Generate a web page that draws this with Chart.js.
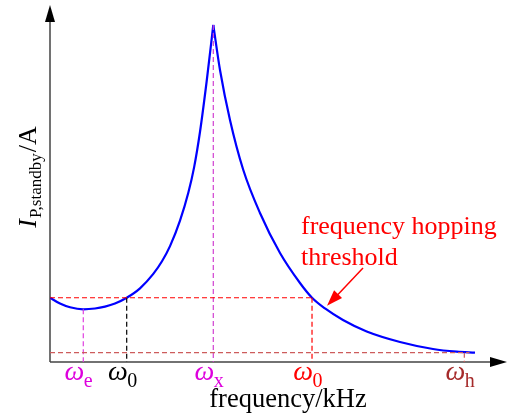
<!DOCTYPE html>
<html>
<head>
<meta charset="utf-8">
<script src="https://cdn.jsdelivr.net/npm/chart.js@4"></script>
<style>
  body { margin: 0; background: #fff; }
  #wrap { width: 518px; height: 420px; }
</style>
</head>
<body>
<div id="wrap"><canvas id="chart" width="518" height="420"></canvas></div>
<script>
// curve (arbitrary units, 0..100 on both axes)
const curveLeftX = [0, 2.19, 4.39, 7.30, 9.87, 12.06, 14.25, 16.82, 19.74, 22.65, 24.56, 26.32, 28.51, 30.33, 31.61, 32.89, 34.35, 35.81];
const curveLeftY = [18.0, 16.36, 15.32, 14.76, 14.99, 15.52, 16.39, 18.0, 20.64, 24.68, 28.21, 32.46, 39.61, 47.39, 54.59, 64.43, 78.57, 94.40];
const curveRightX = [35.81, 37.28, 39.47, 42.39, 46.05, 50.44, 54.82, 57.46, 60.31, 64.25, 69.45, 76.75, 83.99, 89.19, 93.2];
const curveRightY = [94.40, 81.79, 67.79, 53.78, 41.74, 30.53, 22.13, 18.0, 14.99, 11.76, 8.54, 5.60, 3.64, 2.89, 2.61];

// marked frequencies
const tickX = [7.30, 16.82, 35.81, 57.46, 90.86];
const tickTop = [14.76, 18.0, 94.40, 18.0, 2.61];
const tickSub = ['e', '0', 'x', '0', 'h'];
const tickLineColors = ['#e040e0', '#000000', '#d040d0', '#ff0000', '#cd5c5c'];
const tickTextColors = ['#dd00dd', '#000000', '#dd00dd', '#ff0000', '#a52a2a'];

const thresholdY = 18.0;
const floorY = 2.61;
const floorEndX = 92;

const serif = "'Liberation Serif', 'Times New Roman', serif";

function seg(xs, ys) {
    return xs.map((x, i) => ({ x: x, y: ys[i] }));
}

const datasets = [];

// horizontal guides
datasets.push({
    data: [{ x: 0, y: thresholdY }, { x: tickX[3], y: thresholdY }],
    borderColor: '#ff0000', borderWidth: 1.2, borderDash: [5, 3]
});
datasets.push({
    data: [{ x: 0, y: floorY }, { x: floorEndX, y: floorY }],
    borderColor: '#cd5c5c', borderWidth: 1.2, borderDash: [5, 3]
});

// vertical guides down to the axis
tickX.forEach((x, i) => {
    datasets.push({
        data: [{ x: x, y: tickTop[i] }, { x: x, y: 0 }],
        borderColor: tickLineColors[i], borderWidth: 1.2, borderDash: [5, 3]
    });
});

// the curve, split at the peak so the cusp stays sharp
datasets.push({
    data: seg(curveLeftX, curveLeftY),
    borderColor: '#0000ff', borderWidth: 2.2, cubicInterpolationMode: 'monotone'
});
datasets.push({
    data: seg(curveRightX, curveRightY),
    borderColor: '#0000ff', borderWidth: 2.2, cubicInterpolationMode: 'monotone'
});

function arrowHead(ctx, x1, y1, x2, y2, len, half) {
    const a = Math.atan2(y2 - y1, x2 - x1);
    ctx.beginPath();
    ctx.moveTo(x2, y2);
    ctx.lineTo(x2 - len * Math.cos(a) + half * Math.sin(a), y2 - len * Math.sin(a) - half * Math.cos(a));
    ctx.lineTo(x2 - len * Math.cos(a) - half * Math.sin(a), y2 - len * Math.sin(a) + half * Math.cos(a));
    ctx.closePath();
    ctx.fill();
}

const axesPlugin = {
    id: 'axesPlugin',
    beforeDatasetsDraw(chart) {
        const ctx = chart.ctx;
        const xs = chart.scales.x, ys = chart.scales.y;
        const x0 = xs.getPixelForValue(0), y0 = ys.getPixelForValue(0);
        ctx.save();
        ctx.strokeStyle = '#444';
        ctx.lineWidth = 1.5;
        ctx.beginPath();
        ctx.moveTo(x0, y0);
        ctx.lineTo(xs.right - 4, y0);
        ctx.moveTo(x0, y0);
        ctx.lineTo(x0, ys.top + 4);
        ctx.stroke();
        ctx.fillStyle = '#000';
        arrowHead(ctx, x0, y0, xs.right + 1, y0, 17, 5);
        arrowHead(ctx, x0, y0, x0, ys.top, 17, 5);
        ctx.restore();
    },
    afterDraw(chart) {
        const ctx = chart.ctx;
        const xs = chart.scales.x, ys = chart.scales.y;
        ctx.save();

        // tick labels: omega right-aligned at the guide, subscript after it
        tickX.forEach((v, i) => {
            const px = xs.getPixelForValue(v);
            ctx.fillStyle = tickTextColors[i];
            ctx.textAlign = 'right';
            ctx.textBaseline = 'alphabetic';
            ctx.font = 'italic 28px ' + serif;
            ctx.fillText('ω', px + 1, 380);
            ctx.textAlign = 'left';
            ctx.font = '20px ' + serif;
            ctx.fillText(tickSub[i], px + 0.5, 387);
        });

        // x title
        ctx.fillStyle = '#000';
        ctx.textAlign = 'center';
        ctx.font = '26.5px ' + serif;
        ctx.fillText('frequency/kHz', 288, 407);

        // y title, rotated
        ctx.save();
        ctx.translate(36, 177);
        ctx.rotate(-Math.PI / 2);
        ctx.textAlign = 'left';
        const mainFont = '26px ' + serif;
        const italFont = 'italic 26px ' + serif;
        const subFont = '17px ' + serif;
        ctx.font = italFont; const wI = ctx.measureText('I').width;
        ctx.font = subFont; const wS = ctx.measureText('P,standby').width;
        ctx.font = mainFont; const wA = ctx.measureText('/A').width;
        let cx = -(wI + wS + wA + 2) / 2;
        ctx.font = italFont; ctx.fillText('I', cx, 0); cx += wI + 1;
        ctx.font = subFont; ctx.fillText('P,standby', cx, 5); cx += wS + 1;
        ctx.font = mainFont; ctx.fillText('/A', cx, 0);
        ctx.restore();

        // annotation
        ctx.fillStyle = '#ff0000';
        ctx.strokeStyle = '#ff0000';
        ctx.textAlign = 'left';
        ctx.font = '26px ' + serif;
        ctx.fillText('frequency hopping', 301, 234);
        ctx.fillText('threshold', 301, 265);
        const tipX = xs.getPixelForValue(tickX[3]) + 15;
        const tipY = ys.getPixelForValue(thresholdY) + 8;
        ctx.lineWidth = 1.5;
        ctx.beginPath();
        ctx.moveTo(363, 268);
        ctx.lineTo(tipX + 6, tipY - 6);
        ctx.stroke();
        arrowHead(ctx, 363, 268, tipX, tipY, 16, 5.5);

        ctx.restore();
    }
};

new Chart(document.getElementById('chart'), {
    type: 'scatter',
    data: { datasets: datasets },
    options: {
        responsive: false,
        animation: false,
        showLine: true,
        layout: { padding: { left: 50, right: 12, top: 5, bottom: 58 } },
        elements: { point: { radius: 0 } },
        plugins: { legend: { display: false }, tooltip: { enabled: false } },
        scales: {
            x: { type: 'linear', min: 0, max: 100, display: false },
            y: { type: 'linear', min: 0, max: 100, display: false }
        }
    },
    plugins: [axesPlugin]
});
</script>
</body>
</html>
